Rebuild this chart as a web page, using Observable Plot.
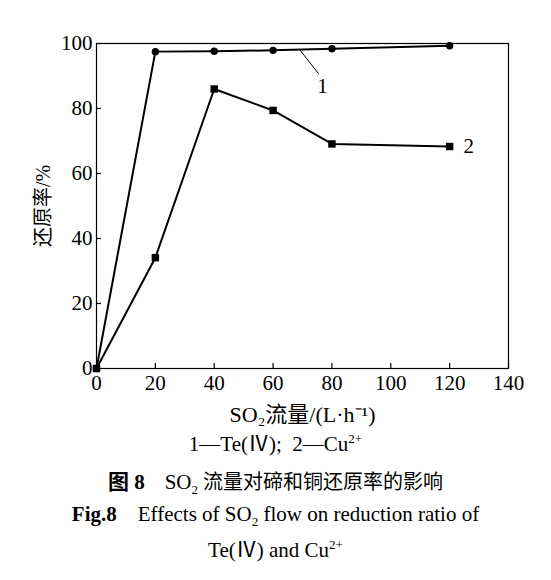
<!DOCTYPE html>
<html>
<head>
<meta charset="utf-8">
<script src="https://cdn.jsdelivr.net/npm/d3@7"></script>
<script src="https://cdn.jsdelivr.net/npm/@observablehq/plot@0.6"></script>
<style>
  body { margin: 0; background: #fff; font-family: "Liberation Serif", "Noto Sans CJK SC", serif; color: #000; position: relative; width: 551px; height: 580px; overflow: hidden; }
  #chart { position: absolute; left: 0; top: 0; }
  .cap { position: absolute; left: 0; width: 551px; text-align: center; line-height: 24px; height: 24px; white-space: nowrap; }
  .sub { position: relative; top: 5px; font-size: 13px; }
  .sup { position: relative; top: -8px; font-size: 13px; }
  #c1 { top: 432px; font-size: 21px; }
  #c2 { top: 470px; font-size: 20px; }
  #c3 { top: 502px; font-size: 21px; }
  #c4 { top: 538px; font-size: 21px; }
</style>
</head>
<body>
<div id="chart"></div>
<div class="cap" id="c1">1—Te(Ⅳ);&nbsp; 2—Cu<span class="sup">2+</span></div>
<div class="cap" id="c2"><b style="font-family:'Liberation Serif','Noto Sans CJK SC';font-size:21px">图 8</b>&nbsp;&nbsp;&nbsp; <span style="font-family:'Liberation Serif';font-size:21px">SO<span class="sub">2</span></span> 流量对碲和铜还原率的影响</div>
<div class="cap" id="c3"><b>Fig.8</b>&nbsp;&nbsp;&nbsp; Effects of SO<span class="sub">2</span> flow on reduction ratio of</div>
<div class="cap" id="c4">Te(Ⅳ) and Cu<span class="sup">2+</span></div>
<script>
const flow = [0, 20, 40, 60, 80, 120];
const te = [0, 97.5, 97.6, 97.9, 98.4, 99.3];
const cu = [0, 34.1, 86.0, 79.4, 69.1, 68.3];
const xTicks = [0, 20, 40, 60, 80, 100, 120, 140];
const yTicks = [0, 20, 40, 60, 80, 100];
const leaderX = [69.3, 75.4];
const leaderY = [97.8, 90.8];
const labelText = ["1", "2"];
const labelX = [76.8, 126.5];
const labelY = [86.8, 68.3];

const teData = flow.map((x, i) => ({x, y: te[i]}));
const cuData = flow.map((x, i) => ({x, y: cu[i]}));
const leader = leaderX.map((x, i) => ({x, y: leaderY[i]}));
const labels = labelText.map((t, i) => ({t, x: labelX[i], y: labelY[i]}));

const chart = Plot.plot({
  width: 551,
  height: 436,
  marginLeft: 96,
  marginRight: 43,
  marginTop: 43,
  marginBottom: 68,
  style: {fontFamily: '"Liberation Serif", "Noto Sans CJK SC", serif', fontSize: "21px", color: "#000", background: "transparent"},
  x: {domain: [0, 140], ticks: xTicks},
  y: {domain: [0, 100], ticks: yTicks},
  marks: [
    Plot.frame({stroke: "#000", strokeWidth: 1.2}),
    Plot.axisX({ticks: xTicks, tickSize: -5, tickPadding: 12, fontSize: 21, strokeWidth: 1.2, label: null}),
    Plot.axisX({ticks: [], label: "SO₂流量/(L·h⁻¹)", labelAnchor: "center", labelArrow: "none", labelOffset: 53, fontSize: 22}),
    Plot.axisY({ticks: yTicks, tickSize: -5, tickPadding: 9, fontSize: 21, strokeWidth: 1.2, label: null}),
    Plot.axisY({ticks: [], label: "还原率/%", labelAnchor: "center", labelArrow: "none", labelOffset: 61, fontSize: 20}),
    Plot.line(teData, {x: "x", y: "y", stroke: "#000", strokeWidth: 2}),
    Plot.line(cuData, {x: "x", y: "y", stroke: "#000", strokeWidth: 2}),
    Plot.line(leader, {x: "x", y: "y", stroke: "#000", strokeWidth: 1}),
    Plot.dot(teData, {x: "x", y: "y", r: 3.7, fill: "#000", stroke: null}),
    Plot.dot(cuData, {x: "x", y: "y", r: 4.2, symbol: "square", fill: "#000", stroke: null}),
    Plot.text(labels, {x: "x", y: "y", text: "t", fontSize: 21, fill: "#000"})
  ]
});
document.getElementById("chart").appendChild(chart);
</script>
</body>
</html>
